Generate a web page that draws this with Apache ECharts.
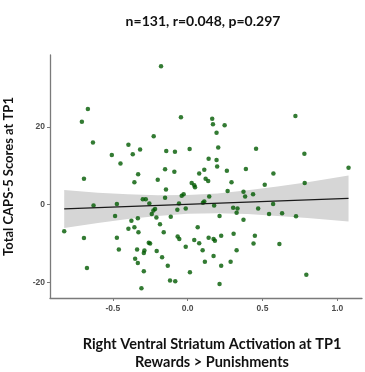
<!DOCTYPE html>
<html>
<head>
<meta charset="utf-8">
<script src="https://cdn.jsdelivr.net/npm/echarts@6/dist/echarts.min.js"></script>
<style>html,body{margin:0;padding:0;background:#fff}#c{width:365px;height:372px}</style>
</head>
<body>
<div id="c"></div>
<script>
// Scatter points: activation (x) and CAPS-5 score (y)
const xVals = [-0.178,-0.667,-0.707,-0.045,0.164,0.169,0.247,0.72,0.193,-0.227,
-0.633,-0.396,-0.318,-0.367,-0.507,-0.449,0.204,0.457,-0.143,-0.085,
0.013,0.78,0.14,0.193,0.197,0.111,-0.151,-0.089,0.262,0.389,
0.077,1.075,-0.331,0.573,-0.693,0.12,-0.2,0.137,-0.356,0.027,
0.044,0.049,0.293,0.515,0.782,-0.145,0.267,0.373,0.384,0.437,
-0.151,-0.04,-0.027,0.144,0.111,0.102,-0.058,0.177,-0.3,-0.28,
-0.256,-0.629,-0.473,-0.218,-0.229,-0.24,-0.069,-0.013,0.304,0.333,
0.471,0.327,0.571,0.544,0.631,0.724,-0.485,-0.376,-0.333,-0.209,
-0.113,0.213,0.373,-0.185,0.067,-0.396,-0.356,-0.329,-0.825,-0.16,
-0.693,-0.473,-0.067,-0.056,0.044,0.14,0.173,0.182,0.224,0.307,
0.449,-0.26,-0.251,0.44,0.077,0.613,-0.013,-0.46,-0.338,-0.289,
-0.293,-0.207,0.1,0.327,-0.171,0.173,-0.351,-0.333,0.115,0.287,
-0.133,0.224,-0.673,-0.293,0.015,0.793,-0.118,-0.083,0.213,-0.309];
const yVals = [35.6,24.6,21.3,22.5,22.1,20.7,20.4,22.8,18.5,17.6,
16.0,15.4,14.2,13.0,12.8,10.6,14.7,14.4,13.8,13.6,
14.3,13.1,11.8,11.5,9.8,9.0,9.1,8.5,8.7,9.2,
8.0,9.5,7.8,8.0,6.7,6.7,6.4,6.1,5.8,5.6,
5.0,4.5,5.8,5.1,5.6,3.9,3.5,3.3,2.1,2.7,
1.8,2.3,2.7,2.1,0.8,0.5,0.3,-0.2,1.4,1.4,
0.3,-0.2,0.2,-1.1,-1.5,-2.4,-1.3,-1.0,-0.8,-1.0,
-1.0,-2.1,0.2,-2.4,-2.2,-3.0,-2.9,-4.1,-3.5,-3.3,
-3.1,-2.9,-3.9,-5.0,-5.8,-6.2,-5.8,-7.1,-6.8,-7.1,
-8.6,-8.5,-8.2,-8.8,-9.1,-8.5,-8.8,-9.3,-8.0,-7.5,
-8.0,-9.8,-10.0,-10.0,-9.9,-10.1,-10.8,-11.5,-11.5,-11.8,
-12.4,-11.9,-11.7,-11.7,-13.5,-13.2,-13.9,-15.0,-14.7,-14.7,
-15.7,-15.7,-16.3,-17.1,-17.4,-18.0,-19.5,-19.7,-20.4,-21.5];

// Fitted line endpoints and confidence band
const fitX = [-0.825, 1.075];
const fitY = [-1.1, 1.6];
const bandX = [-0.825,-0.6,-0.4,-0.2,0.0,0.2,0.4,0.6,0.8,1.075];
const bandUpper = [3.8,3.1,2.7,2.4,2.5,2.9,3.7,4.7,5.8,7.5];
const bandLower = [-6.0,-4.7,-3.7,-2.9,-2.3,-2.2,-2.4,-2.9,-3.4,-4.3];

// Tick values
const xTicks = [-0.5, 0.0, 0.5, 1.0];
const yTicks = [-20, 0, 20];

const titleText = 'n=131, r=0.048, p=0.297';
const xTitle = 'Right Ventral Striatum Activation at TP1\nRewards > Punishments';
const yTitle = 'Total CAPS-5 Scores at TP1';

const points = xVals.map((x, i) => [x, yVals[i]]);
const fitLine = fitX.map((x, i) => [x, fitY[i]]);

const chart = echarts.init(document.getElementById('c'), null, {renderer: 'canvas'});
const tickLabel = {color: '#4d4d4d', fontSize: 8.5, fontWeight: 'bold', fontFamily: 'Liberation Sans'};
chart.setOption({
  animation: false,
  backgroundColor: '#ffffff',
  title: {
    text: titleText, left: 198, top: 9, textAlign: 'center',
    textStyle: {fontSize: 14, fontWeight: 'bold', color: '#111', fontFamily: 'Lato'}
  },
  grid: {left: 50, right: 3, top: 55, bottom: 74, containLabel: false, outerBoundsMode: 'none'},
  xAxis: {
    type: 'value', min: -0.92, max: 1.165,
    name: xTitle, nameLocation: 'middle', nameGap: 37,
    nameTextStyle: {fontSize: 14.5, fontWeight: 'bold', color: '#111', fontFamily: 'Lato', lineHeight: 18, padding: [0, 0, 0, 12]},
    axisLine: {onZero: false, lineStyle: {color: '#7a7a7a', width: 1.3}},
    axisTick: {show: true, length: 3, customValues: xTicks, lineStyle: {color: '#7a7a7a'}},
    axisLabel: Object.assign({margin: 6, customValues: xTicks, formatter: v => v.toFixed(1)}, tickLabel),
    splitLine: {show: false}
  },
  yAxis: {
    type: 'value', min: -24, max: 38.5,
    name: yTitle, nameLocation: 'middle', nameGap: 35, nameRotate: 90,
    nameTextStyle: {fontSize: 13, fontWeight: 'bold', color: '#111', fontFamily: 'Lato'},
    axisLine: {onZero: false, lineStyle: {color: '#7a7a7a', width: 1.3}},
    axisTick: {show: true, length: 3, customValues: yTicks, lineStyle: {color: '#7a7a7a'}},
    axisLabel: Object.assign({margin: 5, customValues: yTicks}, tickLabel),
    splitLine: {show: false}
  },
  series: [
    {
      type: 'custom', z: 1, silent: true, clip: false,
      data: [[bandX[0], bandUpper[0]]],
      renderItem: function (params, api) {
        const pts = [];
        for (let i = 0; i < bandX.length; i++) pts.push(api.coord([bandX[i], bandUpper[i]]));
        for (let i = bandX.length - 1; i >= 0; i--) pts.push(api.coord([bandX[i], bandLower[i]]));
        return {type: 'polygon', shape: {points: pts}, style: {fill: '#d6d6d6'}};
      }
    },
    {
      type: 'scatter', z: 2, data: points, symbolSize: 4.5,
      itemStyle: {color: '#005a00'}
    },
    {
      type: 'line', z: 3, data: fitLine, symbol: 'none',
      lineStyle: {color: '#1a1a1a', width: 1.2}
    }
  ]
});
</script>
</body>
</html>
